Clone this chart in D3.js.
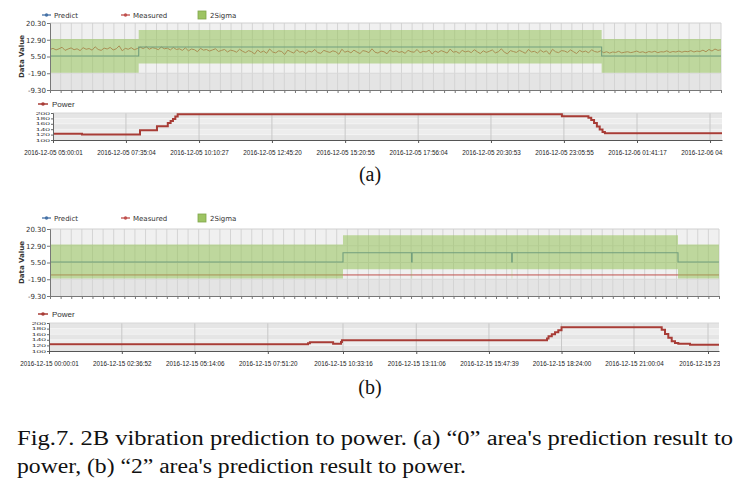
<!DOCTYPE html>
<html><head><meta charset="utf-8">
<script src="https://cdn.jsdelivr.net/npm/d3@7"></script>
<style>body{margin:0;background:#fff}svg{display:block}</style>
</head><body>
<svg id="c" width="747" height="483"></svg>
<script>
const parse = d3.timeParse("%Y-%m-%d %H:%M:%S");

// ---------- shared ticks ----------
const mainYTicks = [20.3, 12.9, 5.5, -1.9, -9.3];
const powerYTicks = [200, 180, 160, 140, 120, 100];
const mainXTickCount = 63;

// ---------- panel (a) ----------
const aStart = "2016-12-05 05:00:01";
const aEnd = "2016-12-06 04:41:56";
const aTickLabels = ["2016-12-05 05:00:01","2016-12-05 07:35:04","2016-12-05 10:10:27","2016-12-05 12:45:20",
  "2016-12-05 15:20:55","2016-12-05 17:56:04","2016-12-05 20:30:53","2016-12-05 23:05:55",
  "2016-12-06 01:41:17","2016-12-06 04:16:30"];
const aBandTimes = ["2016-12-05 05:00:01","2016-12-05 08:08:00","2016-12-06 00:29:00","2016-12-06 04:41:56"];
const aBandLow  = [-1.7, 2.4, -1.7, -1.7];
const aBandHigh = [13.2, 17.2, 13.2, 13.2];
const aPredict  = [5.7, 9.7, 5.7, 5.7];
const aMeasured = [
 8.6,9.1,8.4,8.9,9.6,8.2,8.8,9.3,8.5,8.9,8.1,9.4,8.7,9.0,8.3,9.8,8.6,8.2,9.2,8.8,9.5,8.4,8.9,10.2,8.0,9.1,8.7,9.4,8.5,9.0,
 9.6,9.0,9.8,8.7,9.4,9.1,8.5,9.7,8.9,9.2,8.4,9.5,8.6,8.9,8.2,9.3,8.0,8.8,8.5,7.6,9.1,8.3,8.6,7.9,8.4,8.9,7.7,8.2,8.6,7.5,8.3,8.0,7.4,8.7,7.8,
 7.2,8.1,7.6,6.6,8.4,7.3,7.9,6.9,8.8,7.5,7.1,8.0,7.7,6.4,8.3,7.6,7.0,8.5,7.4,7.8,6.8,7.9,7.5,8.6,7.2,6.9,8.2,7.7,7.3,8.0,
 7.6,6.5,8.7,7.4,7.9,7.1,8.3,7.5,6.8,8.1,7.8,7.2,8.9,7.4,7.0,7.9,7.6,6.7,8.4,7.5,8.0,7.3,7.7,6.9,8.2,7.6,7.4,8.6,7.1,7.8,
 7.5,8.3,6.6,7.9,7.3,8.1,7.6,7.0,8.8,7.4,7.7,6.9,8.2,7.5,7.9,7.2,8.5,7.6,6.8,8.0,7.3,7.8,8.4,7.1,7.6,8.9,7.4,6.7,8.1,7.7,
 7.3,8.2,7.6,6.9,8.6,7.5,7.8,7.0,8.3,7.4,8.0,6.5,8.7,7.6,7.2,8.1,7.9,7.3,8.4,7.6,6.8,8.2,7.5,7.9,7.1,8.5,7.7,7.4,8.0,
 7.2,7.6,7.0,7.5,7.3,7.8,7.1,7.4,7.6,7.2,7.5,7.9,7.3,7.6,7.1,7.7,7.4,7.8,7.2,7.6,7.5,8.0,7.3,7.7,7.5,7.9,7.4,7.8,7.6,8.1,
 7.5,7.9,7.7,8.3,7.6,8.6,7.9,8.8,8.2,8.5];
const aPowerTimes = ["2016-12-05 05:00:01","2016-12-05 06:01:39","2016-12-05 08:04:54","2016-12-05 08:41:00",
  "2016-12-05 09:04:00","2016-12-05 09:10:00","2016-12-05 09:15:00","2016-12-05 09:20:00","2016-12-05 09:25:00",
  "2016-12-05 23:01:39","2016-12-05 23:58:00","2016-12-06 00:04:00","2016-12-06 00:10:00","2016-12-06 00:16:00",
  "2016-12-06 00:22:00","2016-12-06 00:28:00","2016-12-06 00:33:00","2016-12-06 04:41:56"];
const aPowerValues = [123,120,136,151,163,170,178,187,195,188,182,174,163,150,139,130,125,125];

// ---------- panel (b) ----------
const bStart = "2016-12-15 00:00:01";
const bEnd = "2016-12-16 00:03:10";
const bTickLabels = ["2016-12-15 00:00:01","2016-12-15 02:36:52","2016-12-15 05:14:06","2016-12-15 07:51:20",
  "2016-12-15 10:33:16","2016-12-15 13:11:06","2016-12-15 15:47:39","2016-12-15 18:24:00",
  "2016-12-15 21:00:04","2016-12-15 23:39:30"];
const bBandTimes = ["2016-12-15 00:00:01","2016-12-15 10:32:03","2016-12-15 13:00:00","2016-12-15 13:01:10",
  "2016-12-15 16:36:00","2016-12-15 16:37:10","2016-12-15 22:34:43","2016-12-16 00:03:10"];
const bBandLow  = [-1.6, 2.5, -1.6, 2.5, -1.6, 2.5, -1.6, -1.6];
const bBandHigh = [13.5, 17.5, 17.5, 17.5, 17.5, 17.5, 13.5, 13.5];
const bPredict  = [5.7, 9.8, 5.7, 9.8, 5.7, 9.8, 5.7, 5.7];
const bMeasuredTimes = ["2016-12-15 00:00:01","2016-12-16 00:03:10"];
const bMeasured = [0.0, 0.0];
const bPowerTimes = ["2016-12-15 00:00:01","2016-12-15 09:17:54","2016-12-15 09:22:00","2016-12-15 10:12:00",
  "2016-12-15 10:29:00","2016-12-15 10:31:00","2016-12-15 17:52:43","2016-12-15 17:56:00","2016-12-15 18:03:00",
  "2016-12-15 18:10:00","2016-12-15 18:17:00","2016-12-15 18:24:00","2016-12-15 21:59:46","2016-12-15 22:06:52",
  "2016-12-15 22:13:58","2016-12-15 22:21:18","2016-12-15 22:28:25","2016-12-15 22:35:31","2016-12-15 23:00:43",
  "2016-12-16 00:03:10"];
const bPowerValues = [124,128,131,126,132,138,145,153,160,167,174,185,176,161,147,135,129,126,122,122];

// ---------- colours ----------
const cPredict = "#4572a7", cMeasured = "#c0504d", cPower = "#a83c36";
const cBand = "rgb(150,195,90)";

const svg = d3.select("#c");
svg.append("rect").attr("width", 747).attr("height", 483).attr("fill", "#fff");

function drawMain(o) {
  const g = svg.append("g");
  const t0 = parse(o.start), t1 = parse(o.end);
  const x = d3.scaleTime().domain([t0, t1]).range([o.x0, o.x1]);
  const y = d3.scaleLinear().domain([-9.3, 20.3]).range([o.y1, o.y0]);
  for (let i = 0; i < mainYTicks.length - 1; i++) {
    g.append("rect").attr("x", o.x0).attr("width", o.x1 - o.x0)
      .attr("y", y(mainYTicks[i])).attr("height", y(mainYTicks[i + 1]) - y(mainYTicks[i]))
      .attr("fill", i === mainYTicks.length - 2 ? "#e4e4e4" : "#f0f0f0");
  }
  const xt = d3.range(mainXTickCount + 1).map(i => new Date(+t0 + i * (t1 - t0) / mainXTickCount));
  g.selectAll(".vg").data(xt.slice(1)).join("line")
    .attr("x1", d => x(d)).attr("x2", d => x(d)).attr("y1", o.y0).attr("y2", o.y1)
    .attr("stroke", "#d4d4d4").attr("stroke-width", 1);
  g.selectAll(".hg").data(mainYTicks.slice(1, -1)).join("line")
    .attr("x1", o.x0).attr("x2", o.x1).attr("y1", d => y(d)).attr("y2", d => y(d))
    .attr("stroke", "#d8d8d8");
  g.append("line").attr("x1", o.x0).attr("x2", o.x1).attr("y1", o.y0).attr("y2", o.y0).attr("stroke", "#d0d0d0");

  const mt = o.measuredTimes;
  g.append("path").datum(o.measured)
    .attr("fill", "none").attr("stroke", cMeasured).attr("stroke-width", 1)
    .attr("d", d3.line().x((d, i) => x(mt[i])).y(d => y(d)));
  const bt = o.bandTimes.map(parse);
  g.append("path").datum(o.predict)
    .attr("fill", "none").attr("stroke", cPredict).attr("stroke-width", 1.1)
    .attr("d", d3.line().curve(d3.curveStepAfter).x((d, i) => x(bt[i])).y(d => y(d)));
  g.append("path").datum(o.bandLow)
    .attr("fill", cBand).attr("fill-opacity", 0.55)
    .attr("d", d3.area().curve(d3.curveStepAfter).x((d, i) => x(bt[i]))
      .y0(d => y(d)).y1((d, i) => y(o.bandHigh[i])));

  const ya = g.append("g").attr("transform", `translate(${o.x0},0)`)
    .call(d3.axisLeft(y).tickValues(mainYTicks).tickFormat(d => d.toFixed(2)).tickSize(3).tickPadding(1));
  ya.selectAll("text").attr("font-family", "DejaVu Sans").attr("font-size", 7).attr("fill", "#333");
  ya.selectAll("line,path").attr("stroke", "#777");
  const xa = g.append("g").attr("transform", `translate(0,${o.y1})`)
    .call(d3.axisBottom(x).tickValues(xt).tickFormat("").tickSize(3).tickSizeOuter(0));
  xa.selectAll("line,path").attr("stroke", "#777");
  g.append("text").attr("transform", `translate(${o.x0 - 26},${(o.y0 + o.y1) / 2}) rotate(-90)`)
    .attr("text-anchor", "middle").attr("font-family", "DejaVu Sans").attr("font-weight", "bold")
    .attr("font-size", 7).attr("fill", "#333").text("Data Value");

  const ly = o.legendY;
  const leg = [{n: "Predict", c: cPredict, x: 42}, {n: "Measured", c: cMeasured, x: 121}];
  leg.forEach(l => {
    g.append("line").attr("x1", l.x).attr("x2", l.x + 9).attr("y1", ly).attr("y2", ly)
      .attr("stroke", l.c).attr("stroke-width", 1.3);
    g.append("circle").attr("cx", l.x + 4.5).attr("cy", ly).attr("r", 1.7).attr("fill", l.c);
    g.append("text").attr("x", l.x + 12).attr("y", ly + 2.5).attr("font-family", "DejaVu Sans")
      .attr("font-size", 7).attr("fill", "#333").text(l.n);
  });
  g.append("rect").attr("x", 198).attr("y", ly - 4).attr("width", 8).attr("height", 8)
    .attr("fill", "#9dc463").attr("stroke", "#7fa64a").attr("stroke-width", 0.8);
  g.append("text").attr("x", 210).attr("y", ly + 2.5).attr("font-family", "DejaVu Sans")
    .attr("font-size", 7).attr("fill", "#333").text("2Sigma");
}

function drawPower(o) {
  const g = svg.append("g");
  const x = d3.scaleTime().domain([parse(o.start), parse(o.end)]).range([o.x0, o.x1]);
  const y = d3.scaleLinear().domain([100, 200]).range([o.y1, o.y0]);
  for (let i = 0; i < powerYTicks.length - 1; i++) {
    g.append("rect").attr("x", o.x0).attr("width", o.x1 - o.x0)
      .attr("y", y(powerYTicks[i])).attr("height", y(powerYTicks[i + 1]) - y(powerYTicks[i]))
      .attr("fill", i % 2 ? "#ededed" : "#e5e5e5");
  }
  g.selectAll(".hg").data(powerYTicks.slice(1, -1)).join("line")
    .attr("x1", o.x0).attr("x2", o.x1).attr("y1", d => y(d)).attr("y2", d => y(d))
    .attr("stroke", "#f6f6f6").attr("stroke-width", 0.6);
  const tv = o.tickLabels.map(parse);
  g.selectAll(".vg").data(tv.slice(1)).join("line")
    .attr("x1", d => x(d)).attr("x2", d => x(d)).attr("y1", o.y0).attr("y2", o.y1)
    .attr("stroke", "#c8c8c8");
  g.append("line").attr("x1", o.x0).attr("x2", o.x1).attr("y1", o.y0).attr("y2", o.y0).attr("stroke", "#d8d8d8");

  const pt = o.powerTimes.map(parse);
  g.append("path").datum(o.power)
    .attr("fill", "none").attr("stroke", cPower).attr("stroke-width", 2)
    .attr("d", d3.line().curve(d3.curveStepAfter).x((d, i) => x(pt[i])).y(d => y(d)));

  const ya = g.append("g").attr("transform", `translate(${o.x0},0)`)
    .call(d3.axisLeft(y).tickValues(powerYTicks).tickFormat("").tickSize(2));
  ya.selectAll("line,path").attr("stroke", "#666");
  powerYTicks.forEach(v => {
    g.append("text").attr("transform", `translate(${o.x0 - 3},${y(v) + 1.6}) scale(1,0.5)`)
      .attr("text-anchor", "end").attr("font-family", "Liberation Sans").attr("font-size", 8.5)
      .attr("fill", "#333").text(v);
  });
  const clipId = "clip" + o.id;
  svg.append("clipPath").attr("id", clipId).append("rect")
    .attr("x", 0).attr("y", o.y0 - 5).attr("width", o.x1 + 1).attr("height", 70);
  const xa = g.append("g").attr("clip-path", `url(#${clipId})`)
    .append("g").attr("transform", `translate(0,${o.y1})`)
    .call(d3.axisBottom(x).tickValues(tv).tickFormat((d, i) => o.tickLabels[i]).tickSize(3).tickPadding(8).tickSizeOuter(0));
  xa.selectAll("line,path").attr("stroke", "#555");
  xa.selectAll("text").attr("font-family", "Liberation Sans").attr("font-size", 6.3).attr("fill", "#222");

  const ly = o.legendY;
  g.append("line").attr("x1", 38).attr("x2", 48).attr("y1", ly).attr("y2", ly).attr("stroke", cPower).attr("stroke-width", 1.5);
  g.append("circle").attr("cx", 43).attr("cy", ly).attr("r", 1.8).attr("fill", cPower);
  g.append("text").attr("x", 52).attr("y", ly + 2.8).attr("font-family", "Liberation Sans")
    .attr("font-size", 8).attr("fill", "#333").text("Power");
}

const aMeasTimes = aMeasured.map((d, i) => new Date(+parse(aStart) + i * (parse(aEnd) - parse(aStart)) / (aMeasured.length - 1)));

drawMain({start: aStart, end: aEnd, x0: 50, x1: 721, y0: 23, y1: 90, legendY: 15,
  bandTimes: aBandTimes, bandLow: aBandLow, bandHigh: aBandHigh, predict: aPredict,
  measured: aMeasured, measuredTimes: aMeasTimes});
drawPower({id: "a", start: aStart, end: aEnd, x0: 53, x1: 722, y0: 113, y1: 140, legendY: 104,
  tickLabels: aTickLabels, powerTimes: aPowerTimes, power: aPowerValues});

drawMain({start: bStart, end: bEnd, x0: 50, x1: 719, y0: 229, y1: 296, legendY: 218,
  bandTimes: bBandTimes, bandLow: bBandLow, bandHigh: bBandHigh, predict: bPredict,
  measured: bMeasured, measuredTimes: bMeasuredTimes.map(parse)});
drawPower({id: "b", start: bStart, end: bEnd, x0: 49, x1: 719, y0: 323, y1: 351, legendY: 314,
  tickLabels: bTickLabels, powerTimes: bPowerTimes, power: bPowerValues});

const serif = "Liberation Serif";
svg.append("text").attr("x", 370).attr("y", 181).attr("text-anchor", "middle")
  .attr("font-family", serif).attr("font-size", 20).attr("fill", "#111").text("(a)");
svg.append("text").attr("x", 370).attr("y", 394).attr("text-anchor", "middle")
  .attr("font-family", serif).attr("font-size", 20).attr("fill", "#111").text("(b)");
svg.append("text").attr("x", 17).attr("y", 445).attr("font-family", serif).attr("font-size", 20.5)
  .attr("fill", "#111").attr("textLength", 716).attr("lengthAdjust", "spacingAndGlyphs")
  .text("Fig.7. 2B vibration prediction to power. (a) \u201C0\u201D area's prediction result to");
svg.append("text").attr("x", 17).attr("y", 473).attr("font-family", serif).attr("font-size", 20.5)
  .attr("fill", "#111").attr("textLength", 449).attr("lengthAdjust", "spacingAndGlyphs")
  .text("power, (b) \u201C2\u201D area's prediction result to power.");
</script>
</body></html>
